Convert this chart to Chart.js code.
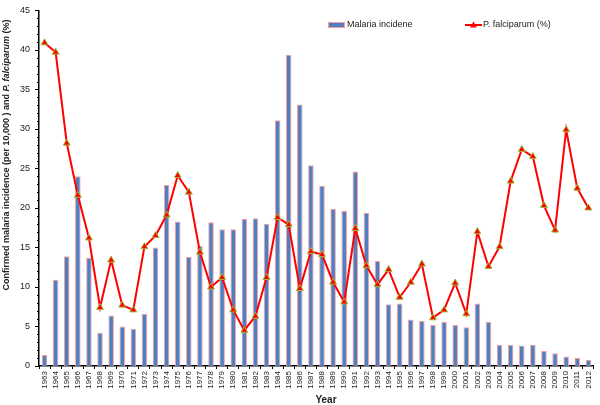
<!DOCTYPE html>
<html>
<head>
<meta charset="utf-8">
<script src="https://cdn.jsdelivr.net/npm/chart.js@4"></script>
<style>
  html, body { margin: 0; padding: 0; background: #fff; }
  #wrap { width: 600px; height: 405px; position: relative; }
</style>
</head>
<body>
<div id="wrap"><canvas id="chart"></canvas></div>
<script>
const years = ['1963','1964','1965','1966','1967','1968','1969','1970','1971','1972',
  '1973','1974','1975','1976','1977','1978','1979','1980','1981','1982',
  '1983','1984','1985','1986','1987','1988','1989','1990','1991','1992',
  '1993','1994','1995','1996','1997','1998','1999','2000','2001','2002',
  '2003','2004','2005','2006','2007','2008','2009','2010','2011','2012'];

const incidence = [1.4, 10.9, 13.9, 24.0, 13.7, 4.2, 6.4, 5.0, 4.7, 6.6,
  15.0, 22.9, 18.3, 13.8, 15.2, 18.2, 17.3, 17.3, 18.6, 18.7,
  18.0, 31.1, 39.4, 33.1, 25.4, 22.8, 19.9, 19.6, 24.6, 19.4,
  13.3, 7.8, 7.9, 5.9, 5.7, 5.2, 5.6, 5.2, 4.9, 7.9,
  5.6, 2.7, 2.7, 2.6, 2.7, 1.9, 1.6, 1.2, 1.0, 0.8];

const falciparum = [40.9, 39.7, 28.2, 21.6, 16.2, 7.4, 13.4, 7.7, 7.1, 15.1,
  16.5, 19.1, 24.1, 22.0, 14.4, 10.0, 11.2, 7.1, 4.5, 6.3,
  11.2, 18.8, 17.9, 9.8, 14.5, 14.1, 10.6, 8.1, 17.4, 12.7,
  10.3, 12.2, 8.7, 10.6, 12.9, 6.1, 7.1, 10.5, 6.6, 17.0,
  12.6, 15.1, 23.4, 27.4, 26.5, 20.3, 17.2, 29.9, 22.5, 20.0];

const FONT = "'Liberation Sans', Arial, sans-serif";
const BAR_FILL = '#4F7FBF';
const BAR_EDGE = '#FF9A9A';
const LINE_RED = '#FF0000';
const MARK_EDGE = '#9BBB3B';

// minor ticks on y axis, legend, axis titles
const extras = {
  id: 'extras',
  afterDraw(chart) {
    const ctx = chart.ctx;
    const y = chart.scales.y;
    const area = chart.chartArea;
    ctx.save();
    ctx.strokeStyle = '#000';
    ctx.lineWidth = 1;
    for (let v = 0; v <= 45; v++) {
      const py = Math.round(y.getPixelForValue(v)) + 0.5;
      const len = v % 5 === 0 ? 4 : 2;
      ctx.beginPath();
      ctx.moveTo(area.left - len, py);
      ctx.lineTo(area.left, py);
      ctx.stroke();
    }

    // y title with italic species name
    const parts = [
      ['bold ', 'Confirmed malaria incidence (per 10,000 ) and '],
      ['italic bold ', 'P. falciparum'],
      ['bold ', ' (%)']
    ];
    const size = 9;
    let total = 0;
    parts.forEach(p => { ctx.font = p[0] + size + 'px ' + FONT; total += ctx.measureText(p[1]).width; });
    ctx.translate(7, 155);
    ctx.rotate(-Math.PI / 2);
    ctx.fillStyle = '#222';
    ctx.textBaseline = 'middle';
    ctx.textAlign = 'left';
    let x = -total / 2;
    parts.forEach(p => {
      ctx.font = p[0] + size + 'px ' + FONT;
      ctx.fillText(p[1], x, 0);
      x += ctx.measureText(p[1]).width;
    });
    ctx.restore();

    // x title
    ctx.save();
    ctx.fillStyle = '#222';
    ctx.font = 'bold 10px ' + FONT;
    ctx.textAlign = 'center';
    ctx.textBaseline = 'middle';
    ctx.fillText('Year', 326, 400);

    // legend
    ctx.font = '9px ' + FONT;
    ctx.textAlign = 'left';
    ctx.fillStyle = BAR_FILL;
    ctx.strokeStyle = BAR_EDGE;
    ctx.lineWidth = 1;
    ctx.fillRect(329, 23, 15, 4);
    ctx.strokeRect(328.5, 22.5, 16, 5);
    ctx.fillStyle = '#222';
    ctx.fillText('Malaria incidene', 347, 25);

    ctx.strokeStyle = LINE_RED;
    ctx.lineWidth = 2;
    ctx.beginPath();
    ctx.moveTo(465, 25);
    ctx.lineTo(482, 25);
    ctx.stroke();
    ctx.fillStyle = LINE_RED;
    ctx.beginPath();
    ctx.moveTo(473.5, 21.5);
    ctx.lineTo(477, 27.5);
    ctx.lineTo(470, 27.5);
    ctx.closePath();
    ctx.fill();
    ctx.fillStyle = '#222';
    ctx.fillText('P. falciparum (%)', 483, 25);
    ctx.restore();
  }
};

new Chart(document.getElementById('chart'), {
  type: 'bar',
  data: {
    labels: years,
    datasets: [
      {
        type: 'line',
        label: 'P. falciparum (%)',
        data: falciparum,
        borderColor: LINE_RED,
        borderWidth: 2,
        backgroundColor: LINE_RED,
        pointStyle: 'triangle',
        pointRadius: 4,
        pointBackgroundColor: LINE_RED,
        pointBorderColor: MARK_EDGE,
        pointBorderWidth: 1,
        tension: 0,
        order: 0
      },
      {
        label: 'Malaria incidene',
        data: incidence,
        backgroundColor: BAR_FILL,
        borderColor: BAR_EDGE,
        borderWidth: 1,
        barPercentage: 0.5,
        categoryPercentage: 1,
        order: 1
      }
    ]
  },
  options: {
    responsive: true,
    maintainAspectRatio: false,
    animation: false,
    layout: { padding: { top: 4, right: 1, left: 0, bottom: 0 } },
    plugins: {
      legend: { display: false },
      tooltip: { enabled: false }
    },
    scales: {
      x: {
        offset: true,
        grid: { display: true, drawOnChartArea: false, offset: true, color: '#000', tickLength: 3 },
        border: { color: '#000', width: 1.5 },
        ticks: {
          color: '#222',
          font: { family: FONT, size: 8 },
          minRotation: 90,
          maxRotation: 90,
          autoSkip: false,
          padding: 2
        },
        afterFit(scale) { scale.height = 39; }
      },
      y: {
        min: 0,
        max: 45,
        grid: { display: false, tickLength: 4 },
        border: { color: '#000', width: 1.5 },
        ticks: {
          stepSize: 5,
          color: '#222',
          font: { family: FONT, size: 9 },
          padding: 5
        },
        afterFit(scale) { scale.width = 39; }
      }
    }
  },
  plugins: [extras]
});
</script>
</body>
</html>
